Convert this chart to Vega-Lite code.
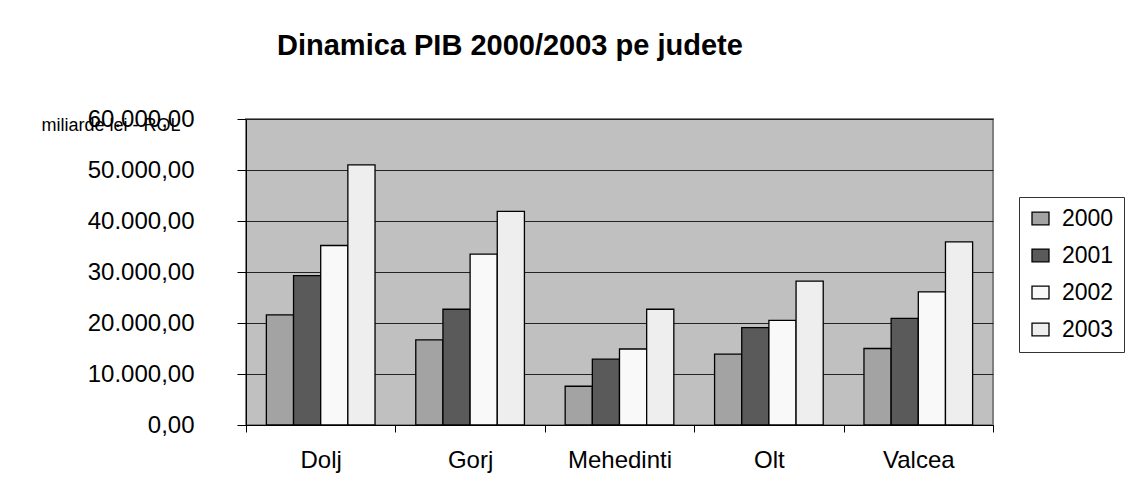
{
  "$schema": "https://vega.github.io/schema/vega-lite/v6.json",
  "autosize": {"type": "none"},
  "width": 747,
  "height": 306,
  "padding": {"left": 246, "top": 119, "right": 136, "bottom": 68},
  "background": "white",
  "title": {
    "text": "Dinamica PIB 2000/2003 pe judete",
    "anchor": "start",
    "frame": "group",
    "dx": 31,
    "fontSize": 29,
    "font": "Liberation Sans",
    "fontWeight": "bold",
    "color": "black",
    "baseline": "alphabetic",
    "offset": 23
  },
  "data": {
    "values": [
      {"judet": "Dolj", "an": "2000", "pib": 21600},
      {"judet": "Dolj", "an": "2001", "pib": 29300},
      {"judet": "Dolj", "an": "2002", "pib": 35200},
      {"judet": "Dolj", "an": "2003", "pib": 51000},
      {"judet": "Gorj", "an": "2000", "pib": 16700},
      {"judet": "Gorj", "an": "2001", "pib": 22700},
      {"judet": "Gorj", "an": "2002", "pib": 33500},
      {"judet": "Gorj", "an": "2003", "pib": 41900},
      {"judet": "Mehedinti", "an": "2000", "pib": 7600},
      {"judet": "Mehedinti", "an": "2001", "pib": 12900},
      {"judet": "Mehedinti", "an": "2002", "pib": 14900},
      {"judet": "Mehedinti", "an": "2003", "pib": 22700},
      {"judet": "Olt", "an": "2000", "pib": 13900},
      {"judet": "Olt", "an": "2001", "pib": 19100},
      {"judet": "Olt", "an": "2002", "pib": 20500},
      {"judet": "Olt", "an": "2003", "pib": 28200},
      {"judet": "Valcea", "an": "2000", "pib": 15000},
      {"judet": "Valcea", "an": "2001", "pib": 20900},
      {"judet": "Valcea", "an": "2002", "pib": 26100},
      {"judet": "Valcea", "an": "2003", "pib": 35900}
    ]
  },
  "mark": {"type": "bar", "stroke": "black", "strokeWidth": 1.3},
  "encoding": {
    "x": {
      "field": "judet",
      "type": "nominal",
      "sort": null,
      "scale": {"paddingInner": 0, "paddingOuter": 0},
      "axis": {
        "title": null,
        "labelAngle": 0,
        "labelFontSize": 24,
        "labelFont": "Liberation Sans",
        "labelColor": "black",
        "labelPadding": 16,
        "tickBand": "extent",
        "tickSize": 7,
        "tickColor": "black",
        "domainColor": "black",
        "grid": false
      }
    },
    "xOffset": {
      "field": "an",
      "type": "nominal",
      "scale": {"paddingInner": 0, "paddingOuter": 0.75}
    },
    "y": {
      "field": "pib",
      "type": "quantitative",
      "scale": {"domain": [0, 60000], "nice": false},
      "axis": {
        "values": [0, 10000, 20000, 30000, 40000, 50000, 60000],
        "format": ",.2f",
        "labelFontSize": 24,
        "labelFont": "Liberation Sans",
        "labelColor": "black",
        "labelPadding": 43,
        "tickSize": 9,
        "tickColor": "black",
        "domainColor": "black",
        "grid": true,
        "gridColor": "#222222",
        "gridWidth": 1,
        "title": "miliarde lei - ROL",
        "titleAngle": 0,
        "titleAlign": "left",
        "titleBaseline": "alphabetic",
        "titleX": -205,
        "titleY": 11,
        "titleFontSize": 18,
        "titleFont": "Liberation Sans",
        "titleFontWeight": "normal",
        "titleColor": "black"
      }
    },
    "fill": {
      "field": "an",
      "type": "nominal",
      "scale": {
        "domain": ["2000", "2001", "2002", "2003"],
        "range": ["#a3a3a3", "#5a5a5a", "#f9f9f9", "#eeeeee"]
      },
      "legend": {
        "title": null,
        "orient": "none",
        "legendX": 773,
        "legendY": 78,
        "padding": 10,
        "strokeColor": "#333333",
        "labelFontSize": 23,
        "labelFont": "Liberation Sans",
        "labelColor": "black",
        "labelOffset": 10,
        "rowPadding": 13,
        "symbolType": "M-1 -0.75H1V0.75H-1Z",
        "symbolSize": 289,
        "symbolStrokeColor": "black",
        "symbolStrokeWidth": 1.3,
        "symbolOpacity": 1
      }
    }
  },
  "config": {
    "view": {"fill": "#c0c0c0", "stroke": "#808080", "strokeWidth": 2},
    "locale": {
      "number": {"decimal": ",", "thousands": ".", "grouping": [3], "currency": ["", ""]}
    }
  }
}
